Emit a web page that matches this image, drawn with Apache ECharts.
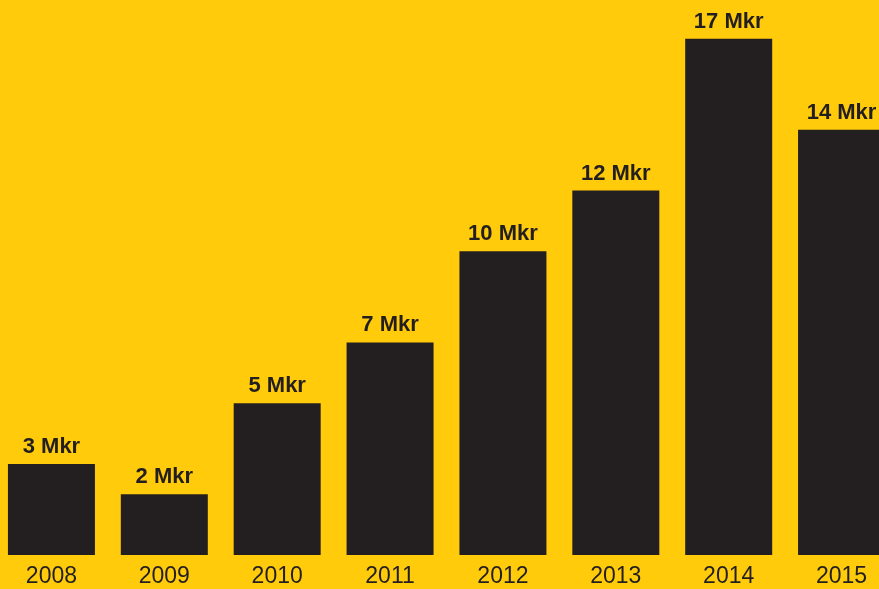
<!DOCTYPE html>
<html>
<head>
<meta charset="utf-8">
<script src="https://cdn.jsdelivr.net/npm/echarts@6/dist/echarts.min.js"></script>
<style>
html,body{margin:0;padding:0;background:#FFCB0A;overflow:hidden;}
#c{width:903px;height:589px;position:absolute;left:-5px;top:0;}
</style>
</head>
<body>
<div id="c"></div>
<script>
var years = ['2008','2009','2010','2011','2012','2013','2014','2015'];
var values = [3, 2, 5, 7, 10, 12, 17, 14];
var unit = ' Mkr';

var chart = echarts.init(document.getElementById('c'), null, {renderer:'canvas'});
chart.setOption({
  backgroundColor: '#FFCB0A',
  animation: false,
  grid: {left: 0, right: 0, top: 8.3, bottom: 34, containLabel: false},
  xAxis: {
    type: 'category',
    data: years,
    axisLine: {show: false},
    axisTick: {show: false},
    axisLabel: {
      color: '#231F20',
      fontFamily: 'Liberation Sans, Arial, sans-serif',
      fontSize: 23,
      margin: 10
    }
  },
  yAxis: {
    type: 'value',
    min: 0,
    max: 18,
    show: false,
    splitLine: {show: false}
  },
  series: [{
    type: 'bar',
    data: values,
    barWidth: 87,
    itemStyle: {color: '#231F20'},
    label: {
      show: true,
      position: 'top',
      distance: 6,
      color: '#231F20',
      fontFamily: 'Liberation Sans, Arial, sans-serif',
      fontWeight: 'bold',
      fontSize: 22,
      formatter: function(p){ return p.value + unit; }
    }
  }]
});
</script>
</body>
</html>
